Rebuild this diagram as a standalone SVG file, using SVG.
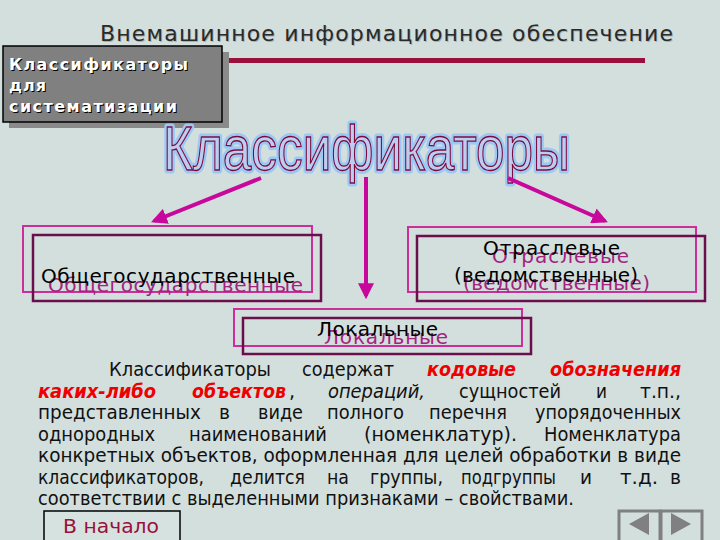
<svg xmlns="http://www.w3.org/2000/svg" width="720" height="540" viewBox="0 0 720 540">
<defs>
<style>
.bg{fill:#d3dfdd}
.ttl{font-family:"DejaVu Sans",sans-serif;font-size:22px;fill:#2a2a2a}
.lbl{font-family:"DejaVu Sans",sans-serif;font-weight:bold;font-size:16px;fill:#ffffff}
.lblsh{font-family:"DejaVu Sans",sans-serif;font-weight:bold;font-size:16px;fill:#000000}
.big{font-family:"Liberation Sans",sans-serif;font-size:63px}
.pk{fill:none;stroke:#cc2f99;stroke-width:2}
.dk{fill:none;stroke:#6a0f4c;stroke-width:2.5}
.nt{font-family:"DejaVu Sans",sans-serif;font-size:20px;fill:#000000}
.ns{font-family:"DejaVu Sans",sans-serif;font-size:20px;fill:#a3237f}
.p{font-family:"DejaVu Sans",sans-serif;font-size:19px;fill:#111111}
.r{fill:#ee0000;font-weight:bold;font-style:italic}
.i{font-style:italic}
.con{stroke:#c8089b;stroke-width:4;fill:none}
</style>
<marker id="ah" viewBox="0 0 10 10" refX="8" refY="5" markerWidth="4" markerHeight="4" orient="auto" markerUnits="strokeWidth">
<path d="M0,0 L10,5 L0,10 Z" fill="#c8089b"/>
</marker>
</defs>
<rect class="bg" x="0" y="0" width="720" height="540"/>

<g id="title">
<text class="ttl" x="100" y="41" textLength="573" fill-opacity="0.25" transform="translate(1,1)">Внемашинное информационное обеспечение</text>
<text class="ttl" x="100" y="41" textLength="573">Внемашинное информационное обеспечение</text>
<rect x="222" y="58" width="423" height="5" fill="#99103c"/>
</g>

<g id="label-box">
<rect x="9" y="52" width="220" height="76" fill="#8a8a8a"/>
<rect x="3" y="46" width="219" height="76" fill="#808080" stroke="#000" stroke-width="1.5"/>
<text class="lblsh" x="10" y="71" textLength="179">Классификаторы</text>
<text class="lbl" x="9" y="70" textLength="179">Классификаторы</text>
<text class="lblsh" x="10" y="92" letter-spacing="1">для</text>
<text class="lbl" x="9" y="91" letter-spacing="1">для</text>
<text class="lblsh" x="10" y="113" textLength="168">систематизации</text>
<text class="lbl" x="9" y="112" textLength="168">систематизации</text>
</g>

<g id="heading">
<text class="big" x="163" y="170" textLength="407" lengthAdjust="spacingAndGlyphs" fill="#9cc8f5" stroke="#9cc8f5" stroke-width="7" stroke-linejoin="round">Классификаторы</text>
<text class="big" x="163" y="170" textLength="407" lengthAdjust="spacingAndGlyphs" fill="#bccdf0" stroke="#7a0a3c" stroke-width="1.3">Классификаторы</text>
</g>

<g id="connectors">
<line class="con" x1="261" y1="178" x2="154" y2="221" marker-end="url(#ah)"/>
<line class="con" x1="366" y1="177" x2="366" y2="296" marker-end="url(#ah)"/>
<line class="con" x1="508" y1="178" x2="605" y2="221" marker-end="url(#ah)"/>
</g>

<g id="node-general">
<rect class="pk" x="23" y="226" width="289" height="66"/>
<rect class="dk" x="33" y="235" width="288" height="66"/>
<text class="ns" x="48" y="292" textLength="255">Общегосударственные</text>
<text class="nt" x="41" y="283" textLength="254">Общегосударственные</text>
</g>

<g id="node-branch">
<rect class="pk" x="408" y="227" width="288" height="65"/>
<rect class="dk" x="417" y="236" width="288" height="65"/>
<text class="ns" x="492" y="263" textLength="137">Отраслевые</text>
<text class="ns" x="463" y="290" textLength="187">(ведомственные)</text>
<text class="nt" x="483" y="255" textLength="137">Отраслевые</text>
<text class="nt" x="454" y="282" textLength="184">(ведомственные)</text>
</g>

<g id="node-local">
<rect class="pk" x="234" y="309" width="288" height="37"/>
<rect class="dk" x="243" y="318" width="288" height="36"/>
<text class="ns" x="324" y="344" textLength="124">Локальные</text>
<text class="nt" x="317" y="336" textLength="121">Локальные</text>
</g>

<g id="paragraph">
<text class="p" x="109" y="376" textLength="162" lengthAdjust="spacingAndGlyphs">Классификаторы</text>
<text class="p" x="302" y="376" textLength="92" lengthAdjust="spacingAndGlyphs">содержат</text>
<text class="p r" x="427" y="376" textLength="89" lengthAdjust="spacingAndGlyphs">кодовые</text>
<text class="p r" x="550" y="376" textLength="131" lengthAdjust="spacingAndGlyphs">обозначения</text>

<text class="p r" x="38" y="398" textLength="118" lengthAdjust="spacingAndGlyphs">каких-либо</text>
<text class="p r" x="192" y="398" textLength="94" lengthAdjust="spacingAndGlyphs">объектов</text>
<text class="p" x="289" y="398">,</text>
<text class="p i" x="328" y="398" textLength="97" lengthAdjust="spacingAndGlyphs">операций,</text>
<text class="p" x="459" y="398" textLength="102" lengthAdjust="spacingAndGlyphs">сущностей</text>
<text class="p" x="596" y="398" textLength="11" lengthAdjust="spacingAndGlyphs">и</text>
<text class="p" x="640" y="398" textLength="41" lengthAdjust="spacingAndGlyphs">т.п.,</text>

<text class="p" x="38" y="419" textLength="163" lengthAdjust="spacingAndGlyphs">представленных</text>
<text class="p" x="219" y="419" textLength="11" lengthAdjust="spacingAndGlyphs">в</text>
<text class="p" x="258" y="419" textLength="45" lengthAdjust="spacingAndGlyphs">виде</text>
<text class="p" x="327" y="419" textLength="77" lengthAdjust="spacingAndGlyphs">полного</text>
<text class="p" x="429" y="419" textLength="78" lengthAdjust="spacingAndGlyphs">перечня</text>
<text class="p" x="535" y="419" textLength="146" lengthAdjust="spacingAndGlyphs">упорядоченных</text>

<text class="p" x="38" y="441" textLength="117" lengthAdjust="spacingAndGlyphs">однородных</text>
<text class="p" x="189" y="441" textLength="138" lengthAdjust="spacingAndGlyphs">наименований</text>
<text class="p" x="364" y="441" textLength="153" lengthAdjust="spacingAndGlyphs">(номенклатур).</text>
<text class="p" x="544" y="441" textLength="137" lengthAdjust="spacingAndGlyphs">Номенклатура</text>

<text class="p" x="38" y="462" textLength="643" lengthAdjust="spacingAndGlyphs">конкретных объектов, оформленная для целей обработки в виде</text>

<text class="p" x="38" y="484" textLength="166" lengthAdjust="spacingAndGlyphs">классификаторов,</text>
<text class="p" x="230" y="484" textLength="75" lengthAdjust="spacingAndGlyphs">делится</text>
<text class="p" x="327" y="484" textLength="22" lengthAdjust="spacingAndGlyphs">на</text>
<text class="p" x="370" y="484" textLength="73" lengthAdjust="spacingAndGlyphs">группы,</text>
<text class="p" x="461" y="484" textLength="95" lengthAdjust="spacingAndGlyphs">подгруппы</text>
<text class="p" x="580" y="484" textLength="12" lengthAdjust="spacingAndGlyphs">и</text>
<text class="p" x="620" y="484" textLength="38" lengthAdjust="spacingAndGlyphs">т.д.</text>
<text class="p" x="670" y="484" textLength="11" lengthAdjust="spacingAndGlyphs">в</text>

<text class="p" x="38" y="505" textLength="536" lengthAdjust="spacingAndGlyphs">соответствии с выделенными признаками – свойствами.</text>
</g>

<g id="btn-home">
<rect x="44" y="511" width="136" height="34" fill="#d6e2e0" stroke="#000" stroke-width="1.5"/>
<text x="63" y="533" font-family="DejaVu Sans, sans-serif" font-size="19" fill="#99103c" textLength="96" lengthAdjust="spacingAndGlyphs">В начало</text>
</g>

<g id="btn-prev">
<rect x="619" y="511" width="41" height="31" fill="#d3dfdd" stroke="#808080" stroke-width="3"/>
<path d="M629,524 L649,513 L649,535 Z" fill="#808080"/>
</g>
<g id="btn-next">
<rect x="661" y="511" width="41" height="31" fill="#d3dfdd" stroke="#808080" stroke-width="3"/>
<path d="M671,513 L691,524 L671,535 Z" fill="#808080"/>
</g>
</svg>
